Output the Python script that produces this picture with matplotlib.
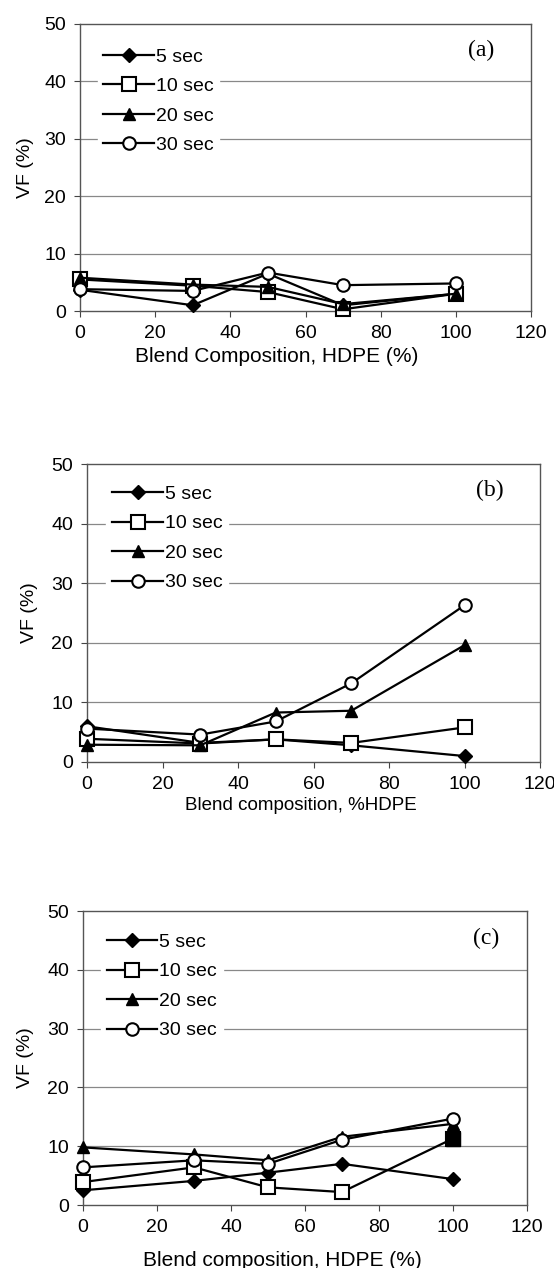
import matplotlib
matplotlib.use("Agg")
import matplotlib.pyplot as plt

plt.rcParams['font.family'] = ['Liberation Sans', 'DejaVu Sans']

# ---------------- data ----------------
hdpe = [0, 30, 50, 70, 100]
series_labels = ["5 sec", "10 sec", "20 sec", "30 sec"]

# panel (a)
a_5s = [3.7, 1.0, 6.5, 1.0, 3.0]
a_10s = [5.5, 4.4, 3.3, 0.3, 3.0]
a_20s = [5.8, 4.6, 4.2, 1.2, 3.0]
a_30s = [3.8, 3.5, 6.7, 4.5, 4.8]

# panel (b)
b_5s = [6.0, 3.2, 3.8, 2.8, 1.0]
b_10s = [3.9, 3.1, 3.8, 3.2, 5.8]
b_20s = [2.9, 2.8, 8.3, 8.6, 19.6]
b_30s = [5.6, 4.6, 6.8, 13.2, 26.3]

# panel (c)
c_5s = [2.5, 4.1, 5.5, 7.0, 4.4]
c_10s = [3.9, 6.4, 3.0, 2.2, 11.3]
c_20s = [9.8, 8.6, 7.6, 11.6, 13.8]
c_30s = [6.4, 7.6, 7.0, 11.1, 14.7]

panel_tags = ["(a)", "(b)", "(c)"]
xlabels = ["Blend Composition, HDPE (%)", "Blend composition, %HDPE",
           "Blend composition, HDPE (%)"]
ylabel = "VF (%)"
xticks = [0, 20, 40, 60, 80, 100, 120]
yticks = [0, 10, 20, 30, 40, 50]

panels = [
    (a_5s, a_10s, a_20s, a_30s),
    (b_5s, b_10s, b_20s, b_30s),
    (c_5s, c_10s, c_20s, c_30s),
]
# filled marker for the 10 sec point at 100 % HDPE in panel (c)
filled_10s_index = {2: [4]}

# ---------------- layout (pixel boxes: left, right, top, bottom) ----------------
W, H = 554, 1268
boxes = [(80, 531, 24, 311), (87, 540, 464, 762), (83, 527, 911, 1205)]
legend_anchor = [(0.039, 0.936), (0.043, 0.948), (0.04, 0.944)]
tag_pos = [(481, 50), (490, 490), (486, 938)]
xlabel_pos = [(277, 356), (301, 805), (282, 1261)]
xlabel_size = [15, 13.5, 15]
ylabel_x = [26, 30, 26]

fig = plt.figure(figsize=(W / 100, H / 100), dpi=100)

styles = [
    dict(marker='D', ms=7, mfc='black', mec='black'),
    dict(marker='s', ms=9.5, mfc='white', mec='black', mew=1.5),
    dict(marker='^', ms=8.5, mfc='black', mec='black'),
    dict(marker='o', ms=9, mfc='white', mec='black', mew=1.5),
]

for i, (box, data) in enumerate(zip(boxes, panels)):
    l, r, t, b = box
    ax = fig.add_axes([l / W, 1 - b / H, (r - l) / W, (b - t) / H])
    ax.set_xlim(0, 120)
    ax.set_ylim(0, 50)
    ax.set_xticks(xticks)
    ax.set_yticks(yticks)
    ax.tick_params(axis='both', direction='out', length=4, width=0.8,
                   colors='#444444', labelcolor='black', labelsize=14, pad=6)
    for s in ax.spines.values():
        s.set_color('#555555')
        s.set_linewidth(1.0)
    for yv in yticks[1:-1]:
        ax.axhline(yv, color='#888888', lw=0.9, zorder=0)

    handles = []
    for k, (vals, st) in enumerate(zip(data, styles)):
        h, = ax.plot(hdpe, vals, color='black', lw=1.6, clip_on=False,
                     zorder=3 + k, **st)
        handles.append(h)
        if k == 1 and i in filled_10s_index:
            for idx in filled_10s_index[i]:
                ax.plot([hdpe[idx]], [vals[idx]], linestyle='none', marker='s',
                        ms=9.5, mfc='black', mec='black', zorder=3 + k)

    leg = ax.legend(handles, series_labels, loc='upper left',
                    bbox_to_anchor=legend_anchor[i], numpoints=1,
                    fontsize=14, handlelength=2.6, handletextpad=0.1,
                    labelspacing=0.61, borderpad=0.3, borderaxespad=0.0,
                    frameon=True, fancybox=False, framealpha=1.0,
                    edgecolor='white', facecolor='white')
    leg.set_zorder(10)

    fig.text(tag_pos[i][0] / W, 1 - tag_pos[i][1] / H, panel_tags[i],
             family=['Liberation Serif', 'DejaVu Serif'], fontsize=17,
             ha='center', va='center')
    fig.text(xlabel_pos[i][0] / W, 1 - xlabel_pos[i][1] / H, xlabels[i],
             fontsize=xlabel_size[i], ha='center', va='center')
    fig.text(ylabel_x[i] / W, 1 - (t + b) / 2 / H, ylabel, rotation=90,
             fontsize=14, ha='center', va='center')

fig.savefig("out.png", dpi=100)
